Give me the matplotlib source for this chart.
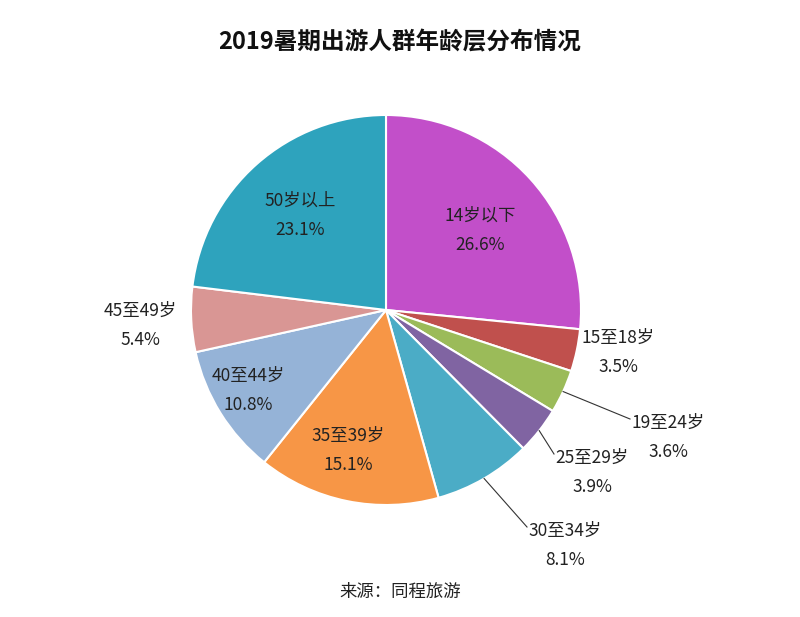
import numpy as np
import matplotlib.pyplot as plt

plt.rcParams['font.family'] = ['Noto Sans CJK SC', 'DejaVu Sans']

labels = ['14岁以下', '15至18岁', '19至24岁', '25至29岁', '30至34岁',
          '35至39岁', '40至44岁', '45至49岁', '50岁以上']
values = [26.6, 3.5, 3.6, 3.9, 8.1, 15.1, 10.8, 5.4, 23.1]
colors = ['#C24FC9', '#C0504D', '#9BBB59', '#8064A2', '#4BACC6',
          '#F79646', '#95B3D7', '#D99694', '#2EA3BD']

# label positions in pixel coords (x, y from top), and whether to draw a leader
label_pos = [(480, 230), (618, 352), (668, 437), (592, 472), (565, 545),
             (348, 450), (248, 390), (140, 325), (300, 215)]
leader = [False, False, True, True, True, False, False, False, False]

W, H = 800, 617
cx, cy, r = 386, H - 310, 195

fig = plt.figure(figsize=(8, 6.17), dpi=100)
ax = fig.add_axes([0, 0, 1, 1])

wedges, _ = ax.pie(values, colors=colors, startangle=90, counterclock=False,
                   center=(cx, cy), radius=r, frame=True,
                   wedgeprops=dict(edgecolor='white', linewidth=1.5))
ax.set_xlim(0, W)
ax.set_ylim(0, H)
ax.set_aspect('equal')
ax.axis('off')

for w, lab, v, (lx, ly), ld in zip(wedges, labels, values, label_pos, leader):
    ly = H - ly
    if ld:
        ang = np.deg2rad((w.theta1 + w.theta2) / 2)
        ex, ey = cx + r * np.cos(ang), cy + r * np.sin(ang)
        ax.plot([ex, lx - 38], [ey, ly + 18], color='#333333', lw=0.8)
    ax.text(lx, ly, f'{lab}\n{v}%', ha='center', va='center', fontsize=12.5,
            color='#222222', linespacing=1.8)

fig.text(0.5, 1 - 42 / H, '2019暑期出游人群年龄层分布情况', ha='center',
         va='center', fontsize=17, fontweight='bold', color='#111111')
fig.text(0.5, 1 - 592 / H, '来源：同程旅游', ha='center', va='center',
         fontsize=12.5, color='#222222')

fig.savefig('out.png', dpi=100)
